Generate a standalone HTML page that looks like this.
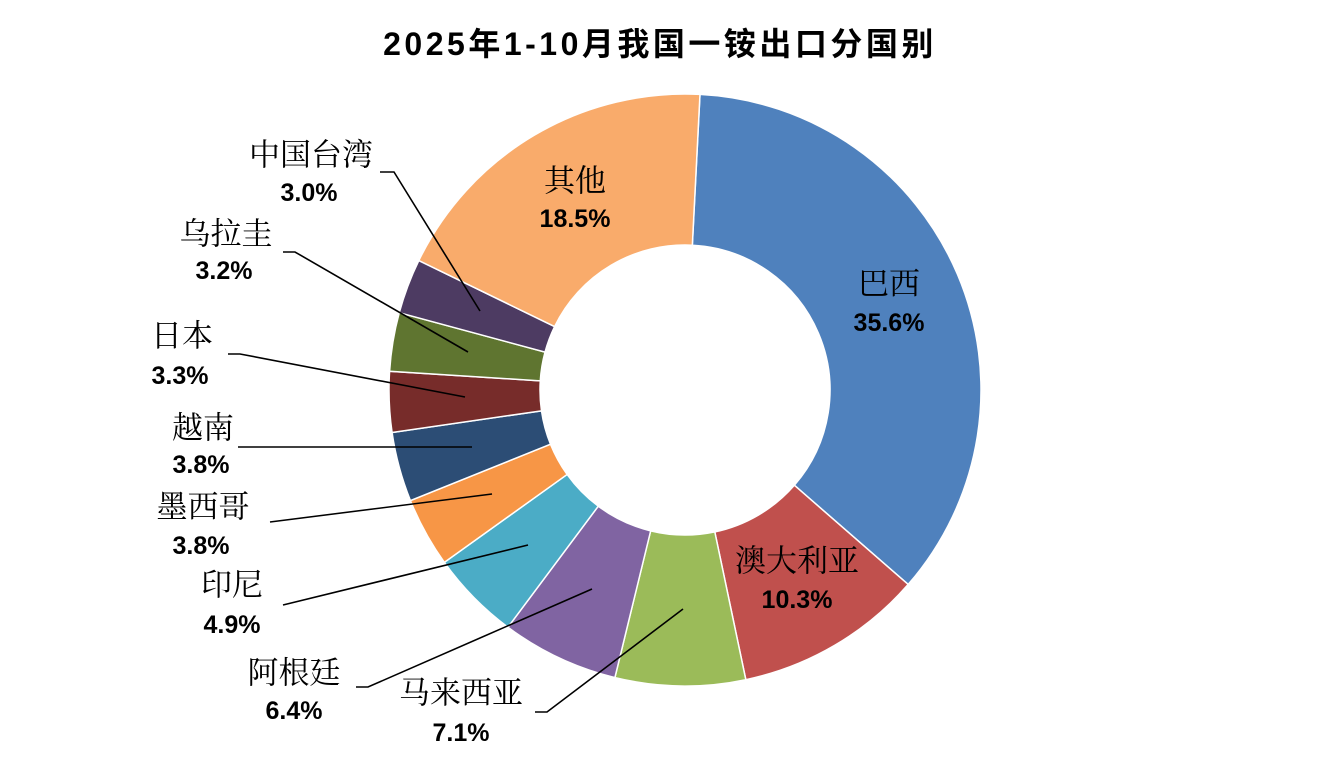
<!DOCTYPE html>
<html><head><meta charset="utf-8"><style>
html,body{margin:0;padding:0;background:#fff;width:1319px;height:760px;overflow:hidden}
.t{font-family:"Liberation Sans","Noto Sans CJK SC",sans-serif;font-weight:bold;font-size:32px;letter-spacing:3.5px}
.c{font-family:"Liberation Serif","Noto Serif CJK SC",serif;font-size:31px}
.p{font-family:"Liberation Sans",sans-serif;font-weight:bold;font-size:25px}
</style></head><body>
<svg id="s" width="1319" height="760" xmlns="http://www.w3.org/2000/svg">
<text class="t" x="660" y="44" text-anchor="middle" dominant-baseline="central">2025年1-10月我国一铵出口分国别</text>
<g id="slices"></g>
<g fill="none" stroke="#000" stroke-width="1.6">
<polyline points="380,172 394,172 480,311"/>
<polyline points="283,252 295,252 468,352"/>
<polyline points="228,354 240,354 465,397"/>
<polyline points="238,447 472,447"/>
<polyline points="270,522 492,494"/>
<polyline points="283,605 528,545"/>
<polyline points="356,687 368,687 592,589"/>
<polyline points="535,712 547,712 683,609"/>
</g>
<g text-anchor="middle" dominant-baseline="central">
<text class="c" x="311" y="155">中国台湾</text><text class="p" x="309" y="193">3.0%</text>
<text class="c" x="226" y="234">乌拉圭</text><text class="p" x="224" y="271">3.2%</text>
<text class="c" x="182" y="336">日本</text><text class="p" x="180" y="376">3.3%</text>
<text class="c" x="203" y="428">越南</text><text class="p" x="201" y="465">3.8%</text>
<text class="c" x="203" y="507">墨西哥</text><text class="p" x="201" y="546">3.8%</text>
<text class="c" x="232" y="585">印尼</text><text class="p" x="232" y="625">4.9%</text>
<text class="c" x="294" y="673">阿根廷</text><text class="p" x="294" y="711">6.4%</text>
<text class="c" x="461" y="693">马来西亚</text><text class="p" x="461" y="733">7.1%</text>
<text class="c" x="575" y="181">其他</text><text class="p" x="575" y="219">18.5%</text>
<text class="c" x="889" y="284">巴西</text><text class="p" x="889" y="323">35.6%</text>
<text class="c" x="797" y="561">澳大利亚</text><text class="p" x="797" y="600">10.3%</text>
</g>
</svg>
<script>
var d=[[35.6,"#4F81BD"],[10.3,"#C0504D"],[7.1,"#9BBB59"],[6.4,"#8064A2"],[4.9,"#4BACC6"],[3.8,"#F79646"],[3.8,"#2C4D75"],[3.3,"#772C2A"],[3.2,"#5F7530"],[3.0,"#4D3B62"],[18.6,"#F9AB6B"]];
var cx=685,cy=390,R=296,r=145,a=2.9*Math.PI/180,h="";
function pt(rad,ang){return (cx+rad*Math.sin(ang)).toFixed(2)+","+(cy-rad*Math.cos(ang)).toFixed(2);}
d.forEach(function(s){var b=a+s[0]/100*2*Math.PI,l=(b-a)>Math.PI?1:0;
h+='<path d="M'+pt(R,a)+' A'+R+','+R+' 0 '+l+' 1 '+pt(R,b)+' L'+pt(r,b)+' A'+r+','+r+' 0 '+l+' 0 '+pt(r,a)+' Z" fill="'+s[1]+'" stroke="#fff" stroke-width="1.5"/>';a=b;});
document.getElementById("slices").innerHTML=h;
</script>
</body></html>
